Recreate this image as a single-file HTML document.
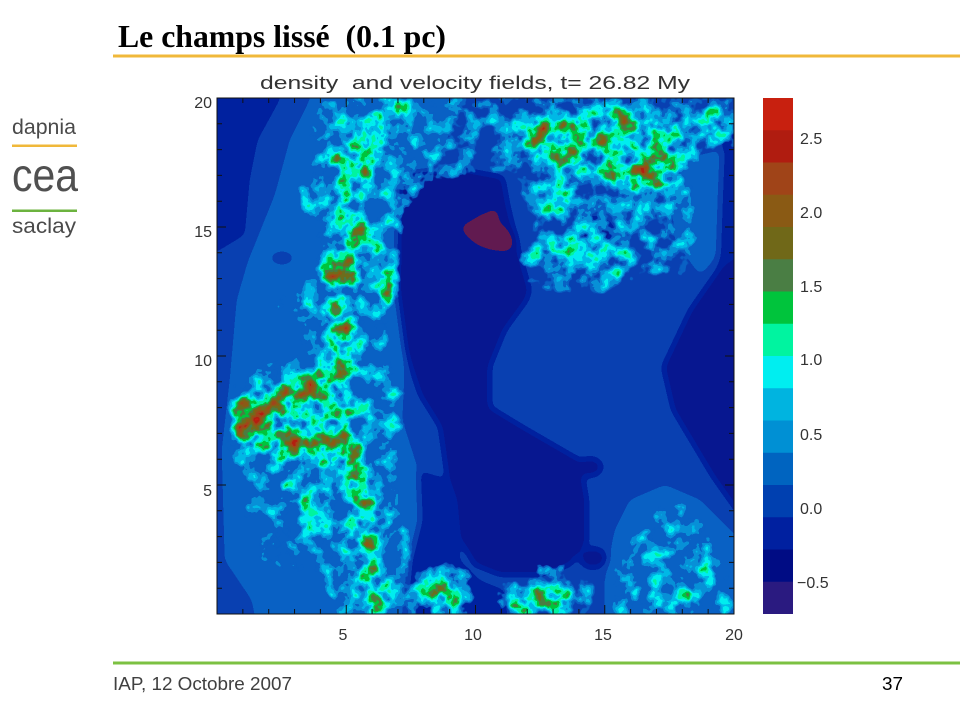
<!DOCTYPE html>
<html><head><meta charset="utf-8">
<style>
html,body{margin:0;padding:0;background:#fff;width:960px;height:720px;overflow:hidden}
svg{display:block}
text{white-space:pre}
</style></head>
<body>
<svg width="960" height="720" viewBox="0 0 960 720" xmlns="http://www.w3.org/2000/svg">
<defs>
  <clipPath id="pc"><rect x="217" y="98" width="517" height="516"/></clipPath>
  <clipPath id="cbclip"><rect x="0" y="0" width="836" height="720"/></clipPath>
  <filter id="fb" filterUnits="userSpaceOnUse" x="190" y="70" width="570" height="570" color-interpolation-filters="sRGB">
    <feGaussianBlur stdDeviation="4"/>
    <feComponentTransfer>
      <feFuncR type="discrete" tableValues="0.384 0.031 0 0.039 0.039 0.031 0 0 0 0 0.29 0.431 0.549 0.627 0.706 0.784"/>
      <feFuncG type="discrete" tableValues="0.102 0.094 0.133 0.251 0.384 0.565 0.722 0.933 0.957 0.769 0.494 0.431 0.353 0.275 0.125 0.118"/>
      <feFuncB type="discrete" tableValues="0.314 0.565 0.627 0.698 0.769 0.847 0.902 0.941 0.627 0.235 0.259 0.11 0.086 0.102 0.063 0.063"/>
      <feFuncA type="linear" slope="0" intercept="1"/>
    </feComponentTransfer>
  </filter>
  <filter id="ff" filterUnits="userSpaceOnUse" x="200" y="80" width="550" height="550" color-interpolation-filters="sRGB">
    <feGaussianBlur in="SourceAlpha" stdDeviation="5" result="b"/>
    <feColorMatrix in="b" type="matrix" values="0 0 0 1 0  0 0 0 1 0  0 0 0 1 0  0 0 0 0 1" result="m"/>
    <feTurbulence type="fractalNoise" baseFrequency="0.06" numOctaves="3" seed="7" result="n"/>
    <feColorMatrix in="n" type="matrix" values="0 0 0 1 0  0 0 0 1 0  0 0 0 1 0  0 0 0 0 1" result="t"/>
    <feComposite in="m" in2="t" operator="arithmetic" k1="0.75" k2="0.22" k3="0.267" k4="-0.09" result="d"/>
    <feComponentTransfer in="d" result="c">
      <feFuncR type="discrete" tableValues="0.384 0.031 0 0.039 0.039 0.031 0 0 0 0 0.29 0.431 0.549 0.627 0.706 0.784"/>
      <feFuncG type="discrete" tableValues="0.102 0.094 0.133 0.251 0.384 0.565 0.722 0.933 0.957 0.769 0.494 0.431 0.353 0.275 0.125 0.118"/>
      <feFuncB type="discrete" tableValues="0.314 0.565 0.627 0.698 0.769 0.847 0.902 0.941 0.627 0.235 0.259 0.11 0.086 0.102 0.063 0.063"/>
      <feFuncA type="linear" slope="0" intercept="1"/>
    </feComponentTransfer>
    <feColorMatrix in="d" type="matrix" values="0 0 0 0 0  0 0 0 0 0  0 0 0 0 0  40 0 0 0 -10" result="am"/>
    <feComposite in="c" in2="am" operator="in"/>
  </filter>
</defs>

<text x="118" y="47" font-family="Liberation Serif, serif" font-weight="bold" font-size="32" textLength="328" lengthAdjust="spacingAndGlyphs" fill="#000">Le champs lissé  (0.1 pc)</text>
<rect x="113" y="54.5" width="847" height="3" fill="#f0b83a"/>

<text x="12" y="134" font-family="Liberation Sans, sans-serif" font-size="21" textLength="64" lengthAdjust="spacingAndGlyphs" fill="#4a4a4a">dapnia</text>
<rect x="12" y="144.5" width="65" height="2.5" fill="#f0b83a"/>
<text x="12" y="191" font-family="Liberation Sans, sans-serif" font-size="46" textLength="66" lengthAdjust="spacingAndGlyphs" fill="#505050">cea</text>
<rect x="12" y="209.5" width="65" height="2.5" fill="#6cb33f"/>
<text x="12" y="233" font-family="Liberation Sans, sans-serif" font-size="21" textLength="64" lengthAdjust="spacingAndGlyphs" fill="#4a4a4a">saclay</text>

<text x="260" y="89" font-family="Liberation Sans, sans-serif" font-size="18" textLength="430" lengthAdjust="spacingAndGlyphs" fill="#333">density  and velocity fields, t= 26.82 My</text>

<g clip-path="url(#pc)">
  <g filter="url(#fb)">
    <rect x="190" y="70" width="570" height="570" fill="rgb(56,56,56)"/>
    <polygon fill="rgb(40,40,40)" points="190,70 285,70 280,100 258,140 250,180 245,235 217,252 190,255"/>
    <polygon fill="rgb(72,72,72)" points="315,70 455,70 450,130 432,180 430,230 428,300 405,355 402,420 418,470 420,520 410,560 402,640 260,640 252,600 225,560 222,450 230,380 237,300 248,262 275,195 290,140 310,100"/>
    <ellipse cx="282" cy="258" rx="12" ry="7" fill="rgb(56,56,56)"/>
    <polygon fill="rgb(40,40,40)" points="418,470 445,478 457,500 460,560 480,580 505,590 510,640 402,640 410,560 420,520"/>
    <polygon fill="rgb(24,24,24)" points="400,175 455,168 503,177 508,205 520,255 530,290 527,300 505,330 490,367 490,407 523,427 580,460 587,500 587,543 570,565 540,575 500,575 475,565 460,540 457,500 447,477 440,427 420,395 405,350 397,290 398,220"/>
    <polygon fill="rgb(24,24,24)" points="760,240 734,240 718,270 690,310 663,367 673,410 713,477 740,515 760,520"/>
    <polygon fill="rgb(40,40,40)" points="722,130 760,130 760,240 718,270 720,200"/>
    <polygon fill="rgb(72,72,72)" points="680,160 722,150 720,200 718,255 700,275 675,240 672,200"/>
    <polygon fill="rgb(72,72,72)" points="630,500 665,485 700,500 730,530 760,560 760,640 605,640 605,580 615,530"/>
    <ellipse cx="593" cy="232" rx="20" ry="14" fill="rgb(24,24,24)"/>
    <ellipse cx="590" cy="467" rx="12" ry="9" fill="rgb(24,24,24)"/>
    <ellipse cx="593" cy="558" rx="13" ry="10" fill="rgb(24,24,24)"/>
    <polygon fill="rgb(8,8,8)" points="460,227 480,215 497,208 500,223 513,233 517,243 507,252 490,250 477,245 467,237"/>
  </g>
  <g filter="url(#ff)">
    <g fill="#fff" fill-opacity="0.45">
      <polygon points="320,95 480,95 482,172 430,182 410,210 402,250 398,300 390,340 402,380 406,420 398,460 402,500 412,540 418,580 424,618 328,618 322,570 308,540 296,505 275,485 240,480 224,440 226,385 262,362 300,350 298,322 274,306 284,286 310,280 318,242 304,215 300,188 314,150 310,120"/>
      <polygon points="482,95 738,95 738,150 702,152 692,200 700,250 682,280 650,272 622,290 600,296 560,292 525,285 520,268 528,240 538,205 515,178 490,172"/>
      <polygon points="495,618 500,580 520,566 560,560 592,580 594,618"/>
      <polygon points="612,618 610,570 630,540 650,510 680,500 702,520 722,560 738,580 738,618"/>
      <ellipse cx="446" cy="592" rx="30" ry="32"/>
    </g>
    <polygon fill="#fff" fill-opacity="0.38" points="245,482 296,480 316,500 328,540 318,575 290,578 262,562 242,525"/>
    <path d="M395,95 C385,120 362,140 356,170 C350,200 348,225 347,245 C346,265 332,285 334,305 C336,325 348,345 335,370 C320,390 280,395 250,405 C238,420 245,440 280,442 C310,444 340,450 352,470 C360,500 362,530 366,560 C370,585 378,600 382,618" stroke="#fff" stroke-opacity="0.5" stroke-width="28" fill="none"/>
    <g fill="#fff" fill-opacity="0.5">
      <ellipse cx="300" cy="422" rx="70" ry="40"/>
      <ellipse cx="600" cy="140" rx="85" ry="32"/>
      <ellipse cx="645" cy="175" rx="40" ry="20"/>
      <ellipse cx="715" cy="122" rx="20" ry="14"/>
      <ellipse cx="570" cy="250" rx="50" ry="14" fill-opacity="0.4"/>
      <ellipse cx="548" cy="200" rx="28" ry="18" fill-opacity="0.4"/>
      <ellipse cx="540" cy="602" rx="40" ry="14"/>
      <ellipse cx="445" cy="598" rx="22" ry="18"/>
      <ellipse cx="645" cy="590" rx="15" ry="10" fill-opacity="0.35"/>
      <ellipse cx="682" cy="598" rx="15" ry="10" fill-opacity="0.35"/>
      <ellipse cx="700" cy="568" rx="12" ry="10" fill-opacity="0.35"/>
      <ellipse cx="660" cy="545" rx="10" ry="10" fill-opacity="0.35"/>
    </g>
    <g fill="#fff" fill-opacity="0.8">
      <circle cx="305" cy="123" r="4"/>
      <circle cx="323" cy="137" r="4"/>
      <circle cx="300" cy="190" r="4"/>
    </g>
    <g fill="#fff">
      <ellipse cx="339" cy="155" rx="7" ry="9"/>
      <ellipse cx="362" cy="165" rx="10" ry="13"/>
      <ellipse cx="307" cy="205" rx="6" ry="7"/>
      <ellipse cx="360" cy="232" rx="14" ry="8"/>
      <ellipse cx="380" cy="245" rx="9" ry="7"/>
      <ellipse cx="342" cy="272" rx="22" ry="16"/>
      <ellipse cx="388" cy="288" rx="8" ry="18"/>
      <ellipse cx="343" cy="337" rx="10" ry="20"/>
      <ellipse cx="345" cy="365" rx="8" ry="12"/>
      <ellipse cx="255" cy="420" rx="18" ry="15"/>
      <ellipse cx="283" cy="430" rx="14" ry="10"/>
      <ellipse cx="245" cy="405" rx="8" ry="6"/>
      <ellipse cx="290" cy="400" rx="12" ry="14"/>
      <ellipse cx="315" cy="385" rx="10" ry="10"/>
      <ellipse cx="340" cy="420" rx="10" ry="8"/>
      <ellipse cx="350" cy="450" rx="10" ry="14"/>
      <ellipse cx="360" cy="470" rx="6" ry="6"/>
      <ellipse cx="368" cy="500" rx="8" ry="10"/>
      <ellipse cx="368" cy="548" rx="5" ry="7"/>
      <ellipse cx="357" cy="593" rx="5" ry="5"/>
      <ellipse cx="428" cy="585" rx="6" ry="8"/>
      <ellipse cx="445" cy="598" rx="8" ry="6"/>
      <ellipse cx="460" cy="610" rx="7" ry="5"/>
      <ellipse cx="438" cy="608" rx="5" ry="5"/>
      <ellipse cx="540" cy="135" rx="8" ry="10"/>
      <ellipse cx="562" cy="148" rx="10" ry="8"/>
      <ellipse cx="578" cy="129" rx="10" ry="6"/>
      <ellipse cx="598" cy="135" rx="6" ry="7"/>
      <ellipse cx="618" cy="116" rx="5" ry="20"/>
      <ellipse cx="640" cy="172" rx="20" ry="15"/>
      <ellipse cx="656" cy="168" rx="10" ry="10"/>
      <ellipse cx="676" cy="163" rx="8" ry="5"/>
      <ellipse cx="718" cy="127" rx="9" ry="5"/>
      <ellipse cx="570" cy="196" rx="5" ry="8"/>
      <ellipse cx="568" cy="247" rx="7" ry="5"/>
      <ellipse cx="617" cy="257" rx="6" ry="5"/>
      <ellipse cx="615" cy="275" rx="4" ry="4"/>
      <ellipse cx="520" cy="604" rx="9" ry="5"/>
      <ellipse cx="541" cy="605" rx="6" ry="6"/>
      <ellipse cx="557" cy="596" rx="8" ry="5"/>
      <ellipse cx="641" cy="592" rx="5" ry="4" fill-opacity="0.85"/>
      <ellipse cx="682" cy="600" rx="5" ry="4" fill-opacity="0.85"/>
    </g>
  </g>
</g>

<rect x="217" y="98" width="517" height="516" fill="none" stroke="#111" stroke-width="1"/>
<path stroke="#111" stroke-width="1" fill="none" d="M242.85,614v-5 M268.7,614v-5 M294.55,614v-5 M320.4,614v-5 M346.25,614v-9 M372.1,614v-5 M397.95,614v-5 M423.8,614v-5 M449.65,614v-5 M475.5,614v-9 M501.35,614v-5 M527.2,614v-5 M553.05,614v-5 M578.9,614v-5 M604.75,614v-9 M630.6,614v-5 M656.45,614v-5 M682.3,614v-5 M708.15,614v-5 M242.85,98v5 M268.7,98v5 M294.55,98v5 M320.4,98v5 M346.25,98v9 M372.1,98v5 M397.95,98v5 M423.8,98v5 M449.65,98v5 M475.5,98v9 M501.35,98v5 M527.2,98v5 M553.05,98v5 M578.9,98v5 M604.75,98v9 M630.6,98v5 M656.45,98v5 M682.3,98v5 M708.15,98v5 M217,588.2h5 M217,562.4h5 M217,536.6h5 M217,510.8h5 M217,485h9 M217,459.2h5 M217,433.4h5 M217,407.6h5 M217,381.8h5 M217,356h9 M217,330.2h5 M217,304.4h5 M217,278.6h5 M217,252.8h5 M217,227h9 M217,201.2h5 M217,175.4h5 M217,149.6h5 M217,123.8h5 M734,588.2h-5 M734,562.4h-5 M734,536.6h-5 M734,510.8h-5 M734,485h-9 M734,459.2h-5 M734,433.4h-5 M734,407.6h-5 M734,381.8h-5 M734,356h-9 M734,330.2h-5 M734,304.4h-5 M734,278.6h-5 M734,252.8h-5 M734,227h-9 M734,201.2h-5 M734,175.4h-5 M734,149.6h-5 M734,123.8h-5"/>

<g font-family="Liberation Sans, sans-serif" font-size="16" fill="#333">
  <text x="212" y="108" text-anchor="end">20</text>
  <text x="212" y="237" text-anchor="end">15</text>
  <text x="212" y="366" text-anchor="end">10</text>
  <text x="212" y="496" text-anchor="end">5</text>
  <text x="343" y="640" text-anchor="middle">5</text>
  <text x="473" y="640" text-anchor="middle">10</text>
  <text x="603" y="640" text-anchor="middle">15</text>
  <text x="734" y="640" text-anchor="middle">20</text>
</g>

<g>
  <rect x="763" y="98" width="30" height="32.5" fill="#c8200f"/>
  <rect x="763" y="130.25" width="30" height="32.5" fill="#b01c10"/>
  <rect x="763" y="162.5" width="30" height="32.5" fill="#a04418"/>
  <rect x="763" y="194.75" width="30" height="32.5" fill="#8a5a14"/>
  <rect x="763" y="227" width="30" height="32.5" fill="#706818"/>
  <rect x="763" y="259.25" width="30" height="32.5" fill="#4a7e44"/>
  <rect x="763" y="291.5" width="30" height="32.5" fill="#00c43c"/>
  <rect x="763" y="323.75" width="30" height="32.5" fill="#00f4a0"/>
  <rect x="763" y="356" width="30" height="32.5" fill="#00eef0"/>
  <rect x="763" y="388.25" width="30" height="32.5" fill="#00b4e0"/>
  <rect x="763" y="420.5" width="30" height="32.5" fill="#0090d4"/>
  <rect x="763" y="452.75" width="30" height="32.5" fill="#0064c0"/>
  <rect x="763" y="485" width="30" height="32.5" fill="#0040b0"/>
  <rect x="763" y="517.25" width="30" height="32.5" fill="#0020a0"/>
  <rect x="763" y="549.5" width="30" height="32.5" fill="#000c84"/>
  <rect x="763" y="581.75" width="30" height="32.25" fill="#2a1a80"/>
</g>
<g font-family="Liberation Sans, sans-serif" font-size="16" fill="#333" clip-path="url(#cbclip)">
  <text x="800" y="144">2.5</text>
  <text x="800" y="218">2.0</text>
  <text x="800" y="292">1.5</text>
  <text x="800" y="365">1.0</text>
  <text x="800" y="440">0.5</text>
  <text x="800" y="514">0.0</text>
  <text x="797" y="588">−0.5</text>
</g>

<rect x="113" y="661.5" width="847" height="3" fill="#7cc142"/>
<text x="113" y="690" font-family="Liberation Sans, sans-serif" font-size="18" textLength="179" lengthAdjust="spacingAndGlyphs" fill="#404040">IAP, 12 Octobre 2007</text>
<text x="882" y="690" font-family="Liberation Sans, sans-serif" font-size="18" textLength="21" lengthAdjust="spacingAndGlyphs" fill="#000">37</text>
</svg>
</body></html>
